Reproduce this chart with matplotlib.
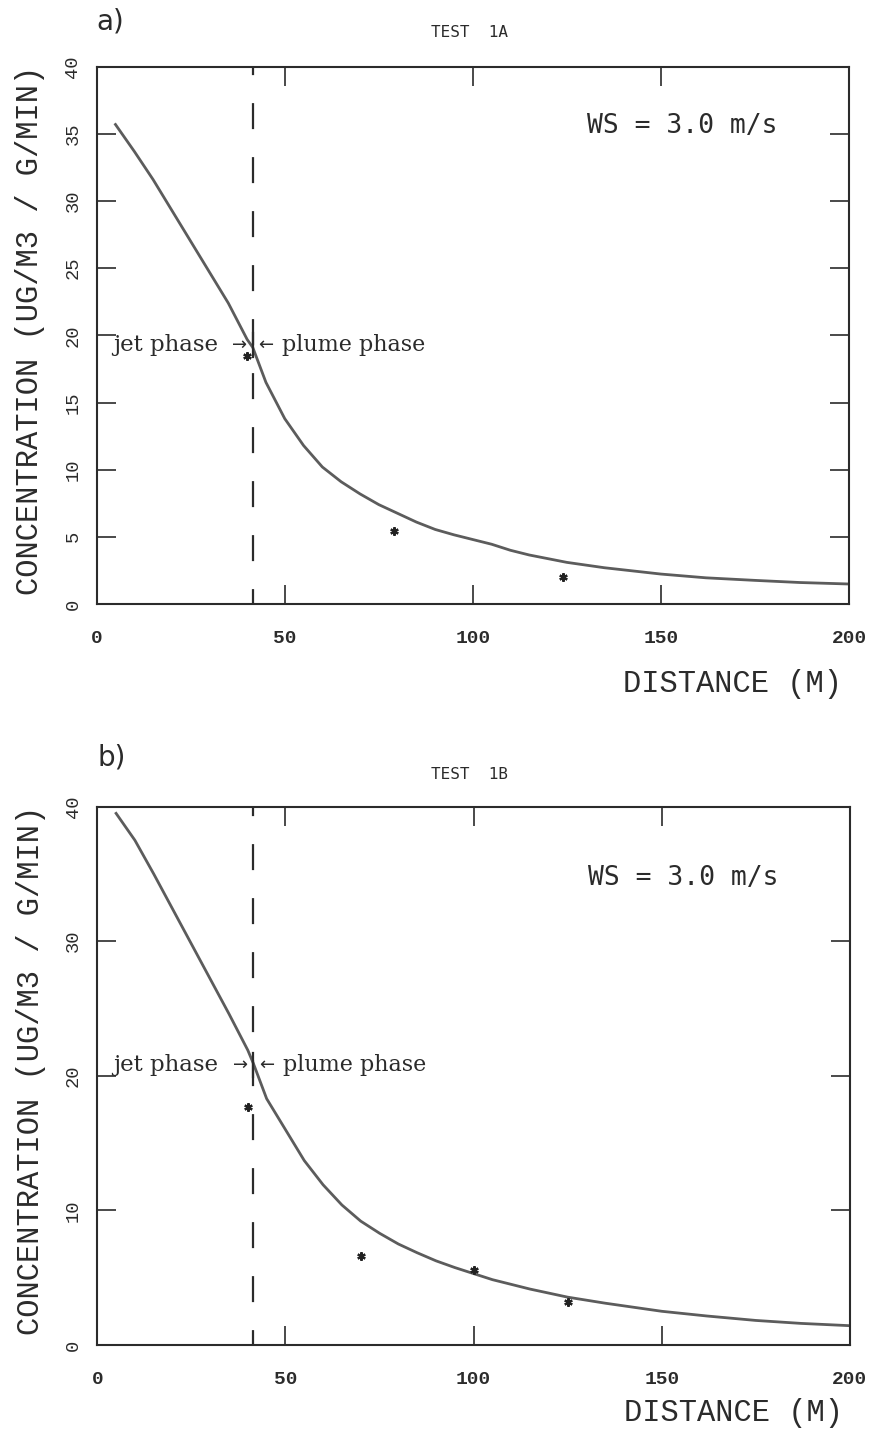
import matplotlib
matplotlib.use('Agg')
import matplotlib.pyplot as plt

# ---- data ----
# panel a) TEST 1A
dist_a = [5, 10, 15, 20, 25, 30, 35, 40, 41.5, 45, 50, 55, 60, 65, 70, 75, 80, 85, 90, 95,
          100, 105, 110, 115, 125, 135, 150, 162, 175, 187, 200]
conc_a = [35.7, 33.7, 31.6, 29.3, 27.0, 24.7, 22.4, 19.7, 19.1, 16.5, 13.8, 11.8, 10.2, 9.1,
          8.2, 7.4, 6.75, 6.1, 5.55, 5.15, 4.8, 4.45, 4.0, 3.65, 3.1, 2.7, 2.23, 1.95, 1.76, 1.6, 1.49]
obs_x_a = [40, 79, 124]
obs_y_a = [18.5, 5.4, 2.0]

# panel b) TEST 1B
dist_b = [5, 10, 15, 20, 25, 30, 35, 40, 41.5, 45, 50, 55, 60, 65, 70, 75, 80, 85, 90, 95,
          100, 105, 110, 115, 125, 135, 150, 162, 175, 187, 200]
conc_b = [39.5, 37.5, 35.0, 32.4, 29.8, 27.2, 24.6, 21.9, 20.9, 18.3, 16.0, 13.7, 11.9, 10.4,
          9.2, 8.3, 7.5, 6.85, 6.25, 5.75, 5.3, 4.85, 4.5, 4.15, 3.55, 3.1, 2.5, 2.15, 1.82, 1.6, 1.43]
obs_x_b = [40, 70, 100, 125]
obs_y_b = [17.7, 6.6, 5.6, 3.2]

x_transition = 41.5
x_ticks = [0, 50, 100, 150, 200]
y_ticks_a = [0, 5, 10, 15, 20, 25, 30, 35, 40]
y_ticks_b = [0, 10, 20, 30, 40]

INK = '#2b2b2b'
MONO = 'Liberation Mono'


def draw_panel(ax, dist, conc, obs_x, obs_y, yticks, title, letter, label_y,
               ws_y, title_y, letter_y, xlabel_y):
    ax.plot(dist, conc, color='#5c5c5c', lw=2.0)
    ax.plot(obs_x, obs_y, ls='none', marker=(6, 2, 0), ms=6, mew=1.6, color='#222222')
    ax.axvline(x_transition, color=INK, lw=1.6, ls=(5, (11.7, 12.6)))

    ax.set_xlim(0, 200)
    ax.set_ylim(0, 40)
    ax.set_xticks(x_ticks)
    ax.set_yticks(yticks)
    ax.set_xticklabels([str(t) for t in x_ticks], family=MONO, fontsize=14, weight='bold', color=INK)
    ax.set_yticklabels([str(t) for t in yticks], family=MONO, fontsize=13.5, color=INK,
                       rotation=90, va='center')
    ax.tick_params(direction='in', length=13.7, width=1.2, color=INK,
                   top=True, right=True, labeltop=False, labelright=False)
    ax.tick_params(axis='x', pad=18.5)
    ax.tick_params(axis='y', pad=11)
    for s in ax.spines.values():
        s.set_linewidth(1.5)
        s.set_color(INK)

    # jet / plume annotation
    ax.text(32.2, label_y, 'jet phase', ha='right', va='center',
            family='DejaVu Serif', fontsize=16.5, color=INK)
    ax.text(40.0, label_y, '\u2192', ha='right', va='center',
            family='DejaVu Sans', fontsize=13, color=INK)
    ax.text(42.9, label_y, '\u2190', ha='left', va='center',
            family='DejaVu Sans', fontsize=13, color=INK)
    ax.text(49.3, label_y, 'plume phase', ha='left', va='center',
            family='DejaVu Serif', fontsize=16, color=INK)
    ax.plot([x_transition, x_transition], [label_y - 0.9, label_y + 0.9], color=INK, lw=1.6)

    ax.text(0.778, ws_y, 'WS = 3.0 m/s', transform=ax.transAxes,
            ha='center', va='center', family='DejaVu Sans Mono', fontsize=19, color=INK)

    ax.text(0.495, title_y, title, transform=ax.transAxes, ha='center', va='center',
            family='DejaVu Sans Mono', fontsize=11.5, color=INK)
    ax.text(0.0, letter_y, letter, transform=ax.transAxes, ha='left', va='center',
            family='DejaVu Sans', fontsize=20, color=INK)

    ax.text(0.991, xlabel_y, 'DISTANCE (M)', transform=ax.transAxes, ha='right', va='center',
            family=MONO, fontsize=22, color=INK)
    ax.text(-0.088, 0.51, 'CONCENTRATION (UG/M3 / G/MIN)', transform=ax.transAxes,
            rotation=90, ha='center', va='center', family=MONO, fontsize=22, color=INK)


fig = plt.figure(figsize=(8.74, 14.32), dpi=100)
ax_a = fig.add_axes([0.1106, 0.5782, 0.8608, 0.3752])
ax_b = fig.add_axes([0.1113, 0.0608, 0.8612, 0.3759])

draw_panel(ax_a, dist_a, conc_a, obs_x_a, obs_y_a, y_ticks_a, 'TEST  1A', 'a)',
           19.3, 0.89, 1.063, 1.085, -0.149)
draw_panel(ax_b, dist_b, conc_b, obs_x_b, obs_y_b, y_ticks_b, 'TEST  1B', 'b)',
           20.8, 0.868, 1.059, 1.092, -0.126)

fig.savefig('out.png', dpi=100, facecolor='white')
